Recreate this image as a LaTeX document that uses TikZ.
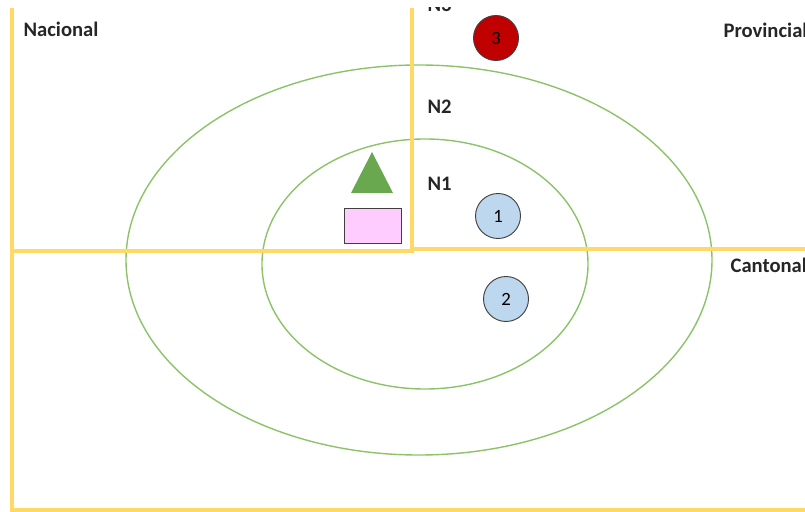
\documentclass[tikz,border=0pt]{standalone}
\usepackage{fontspec}
\setmainfont{Carlito}
\usetikzlibrary{shapes.geometric}
\definecolor{cyellow}{HTML}{FFD966}
\definecolor{cgreen}{HTML}{8CC36A}
\definecolor{cleaf}{HTML}{6AA84F}
\definecolor{cpink}{HTML}{FFCCFF}
\definecolor{cblue}{HTML}{BDD7EE}
\definecolor{cred}{HTML}{C00000}
\definecolor{cdark}{HTML}{404040}
\tikzset{
  every picture/.style={line width=1pt},
  zone/.style={draw=cyellow, line width=2.6pt},
  ring/.style={ellipse, draw=cgreen, line width=1.2pt, inner sep=0pt},
  level/.style={font=\fontsize{17.6}{20}\selectfont\bfseries, text=black!85, anchor=base west, inner sep=0pt},
  dot/.style={circle, draw=cdark, fill=#1, line width=0.8pt, minimum size=1.35cm, inner sep=0pt, font=\fontsize{16}{18}\selectfont},
  dot/.default=cblue,
}
\begin{document}
\begin{tikzpicture}[x=0.03cm, y=-0.03cm]
  \useasboundingbox (0,0) rectangle (805,512);
  \clip (0,8) rectangle (805,512);
  % rings
  \node[ring, minimum width=17.58cm, minimum height=11.7cm] (outer) at (419,260) {};
  \node[ring, minimum width=9.78cm, minimum height=7.5cm] (inner) at (425,264) {};
  % zones
  \draw[zone] (12,8) -- (12,510) -- (805,510);
  \draw[zone] (12,251) -- (412,251) -- (412,8);
  \draw[zone] (412,249) -- (805,249);
  % labels
  \node[level] (nac) at (23,37) {Nacional};
  \node[level] (prov) at (723,38) {Provincial};
  \node[level] (cant) at (730,273) {Cantonal};
  \node[level] (n3) at (427,12) {N3};
  \node[level] (n2) at (427,114) {N2};
  \node[level] (n1) at (427,191) {N1};
  % items
  \fill[cleaf] (372,152) -- (393,193) -- (351,193) -- cycle;
  \node[draw=cdark, fill=cpink, line width=0.8pt, minimum width=1.71cm, minimum height=1.05cm, inner sep=0pt] (box) at (372.5,225.5) {};
  \node[dot] (c1) at (498,216) {1};
  \node[dot] (c2) at (506,299) {2};
  \node[dot=cred] (c3) at (496,38) {3};
\end{tikzpicture}
\end{document}
